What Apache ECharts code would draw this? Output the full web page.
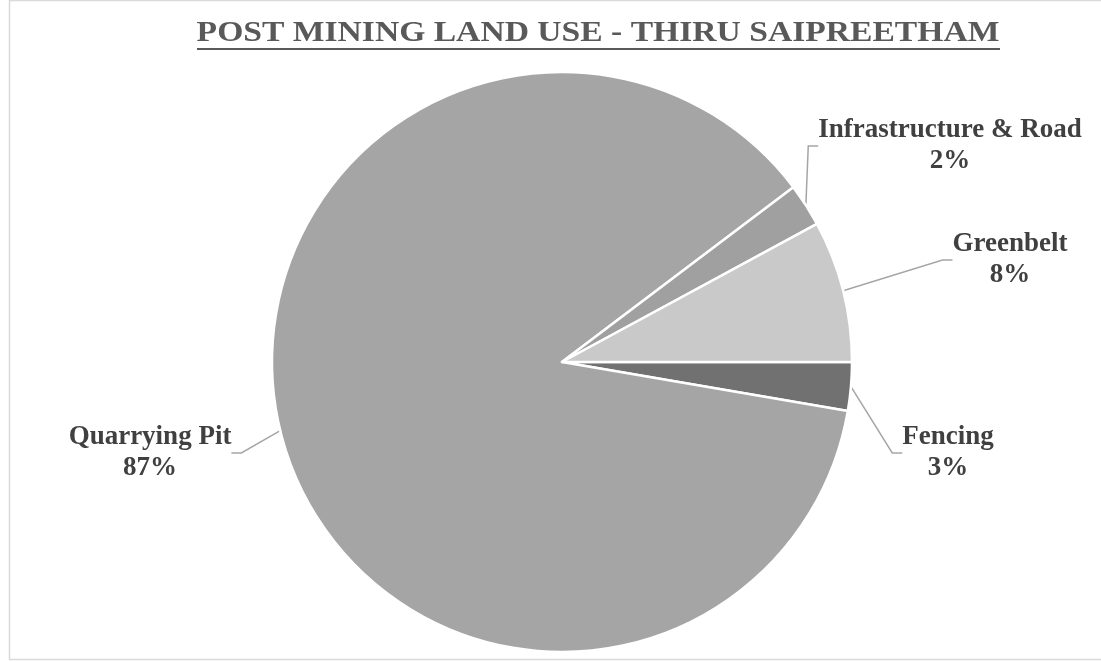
<!DOCTYPE html>
<html>
<head>
<meta charset="utf-8">
<script src="https://cdn.jsdelivr.net/npm/echarts@6/dist/echarts.min.js"></script>
<style>
html,body{margin:0;padding:0;background:#fff;}
#chart{width:1101px;height:662px;}
</style>
</head>
<body>
<div id="chart"></div>
<script>
const titleText = 'POST MINING LAND USE - THIRU SAIPREETHAM';
const categories = ['Fencing', 'Quarrying Pit', 'Infrastructure & Road', 'Greenbelt'];
const values = [2.7, 87.0, 2.4, 7.9];
const sliceColors = ['#717171', '#a5a5a5', '#a0a0a0', '#c9c9c9'];

// label anchor positions (pixel centres) per slice
const labelPos = [
  {x: 948, y: 453},
  {x: 150, y: 453},
  {x: 950, y: 146},
  {x: 1010, y: 260}
];

const chart = echarts.init(document.getElementById('chart'), null, {renderer: 'canvas'});

const option = {
  backgroundColor: '#ffffff',
  animation: false,
  graphic: [
    {
      type: 'rect',
      shape: {x: 9.5, y: 0.5, width: 1100, height: 659},
      style: {fill: 'none', stroke: '#d9d9d9', lineWidth: 1.5},
      silent: true
    },
    {
      type: 'text',
      x: 598, y: 33,
      scaleX: 1.12,
      style: {
        text: titleText,
        font: 'bold 30px "Liberation Serif", "DejaVu Serif", serif',
        fill: '#595959',
        align: 'center',
        verticalAlign: 'middle'
      }
    },
    {
      type: 'line',
      shape: {x1: 197, y1: 49, x2: 1000, y2: 49},
      style: {stroke: '#595959', lineWidth: 2}
    }
  ],
  series: [{
    type: 'pie',
    center: [562, 362],
    radius: 290,
    startAngle: 0,
    clockwise: true,
    avoidLabelOverlap: false,
    itemStyle: {borderColor: '#ffffff', borderWidth: 2.5},
    label: {
      show: true,
      formatter: function (p) { return p.name + '\n' + Math.round(p.percent) + '%'; },
      fontFamily: '"Liberation Serif", "DejaVu Serif", serif',
      fontWeight: 'bold',
      fontSize: 27,
      lineHeight: 31,
      color: '#404040',
      align: 'center'
    },
    labelLine: {
      show: true,
      length: 12,
      length2: 10,
      lineStyle: {color: '#a6a6a6', width: 1.5}
    },
    labelLayout: function (params) {
      const p = labelPos[params.dataIndex];
      return {x: p.x, y: p.y, align: 'center', verticalAlign: 'middle'};
    },
    emphasis: {disabled: true},
    data: categories.map((c, i) => ({
      name: c,
      value: values[i],
      itemStyle: {color: sliceColors[i]}
    }))
  }]
};

chart.setOption(option);
</script>
</body>
</html>
